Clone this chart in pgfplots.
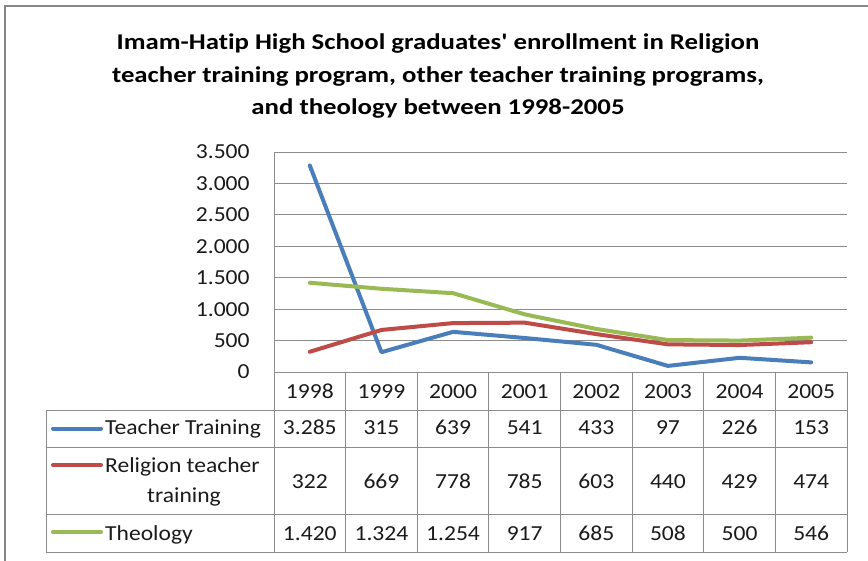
\documentclass[border=0pt]{standalone}
\usepackage{fontspec}
\setmainfont[Ligatures={TeX,NoCommon}]{Carlito}
\usepackage{pgfplots}
\pgfplotsset{compat=1.18}
\definecolor{tblue}{HTML}{4A7EBB}
\definecolor{tred}{HTML}{BE4B48}
\definecolor{tgreen}{HTML}{98B954}
\definecolor{gridc}{HTML}{8C8C8C}
\definecolor{frame}{HTML}{868686}
\definecolor{txt}{HTML}{1A1A1A}
\newcommand{\tf}{\fontsize{21.5}{26}\selectfont}
\newcommand{\sq}{\XeTeXglyph\XeTeXcharglyph"27\relax}
\begin{document}
\begin{tikzpicture}[x=1bp,y=1bp]
\useasboundingbox (0,0) rectangle (868,-561);
% outer frame (left and top visible)
\draw[frame, line width=2bp] (5,-561) -- (5,-6) -- (868,-6);
% title
\begin{scope}[every node/.style={inner sep=0, xscale=1.19, font=\fontsize{22.6}{27}\selectfont\bfseries, text=black}]
\node[anchor=base] at (438,-49.3) {Imam-Hatip High School graduates\sq{} enrollment in Religion};
\node[anchor=base] at (438,-82.7) {teacher training program, other teacher training programs,};
\node[anchor=base] at (438,-114.3) {and theology between 1998-2005};
\end{scope}
\begin{axis}[at={(274bp,-372bp)}, anchor=south west, scale only axis,
  width=573bp, height=220bp,
  xmin=0.5, xmax=8.5, ymin=0, ymax=3500,
  xtick=\empty, ytick={0,500,...,3500},
  ymajorgrids, grid style={gridc, line width=1bp},
  axis lines*=left, axis line style={gridc, line width=1bp, -},
  major tick length=0pt,
  yticklabel style={font=\tf, text=txt, inner xsep=0pt, xscale=1.1, xshift=-22bp},
  clip=false,
  /pgf/number format/.cd, 1000 sep={.}, assume math mode=true]
\addplot[tblue, line width=4bp, line join=round, line cap=round] coordinates {(1,3285)(2,315)(3,639)(4,541)(5,433)(6,97)(7,226)(8,153)};
\addplot[tred, line width=4bp, line join=round, line cap=round] coordinates {(1,322)(2,669)(3,778)(4,785)(5,603)(6,440)(7,429)(8,474)};
\addplot[tgreen, line width=4bp, line join=round, line cap=round] coordinates {(1,1420)(2,1324)(3,1254)(4,917)(5,685)(6,508)(7,500)(8,546)};
\end{axis}
% data table grid
\begin{scope}[gridc, line width=1bp]
\draw (46,-410) -- (847,-410);
\draw (46,-447) -- (847,-447);
\draw (46,-514) -- (847,-514);
\draw (46,-552) -- (847,-552);
\draw (46,-410) -- (46,-552);
\foreach \i in {0,...,8} { \draw ({274+71.625*\i},-372) -- ({274+71.625*\i},-552); }
\end{scope}
\begin{scope}[every node/.style={inner sep=0, xscale=1.1, font=\tf, text=txt}]
\foreach \y [count=\i] in {1998,1999,2000,2001,2002,2003,2004,2005}
  \node[anchor=base] at ({274+71.625*(\i-0.5)},-398.3) {\y};
\foreach \v [count=\i] in {3.285,315,639,541,433,97,226,153}
  \node[anchor=base] at ({274+71.625*(\i-0.5)},-434.3) {\v};
\foreach \v [count=\i] in {322,669,778,785,603,440,429,474}
  \node[anchor=base] at ({274+71.625*(\i-0.5)},-488.3) {\v};
\foreach \v [count=\i] in {1.420,1.324,1.254,917,685,508,500,546}
  \node[anchor=base] at ({274+71.625*(\i-0.5)},-540) {\v};
% legend keys and names
\draw[tblue, line width=4bp, line cap=round] (53,-428.5) -- (101,-428.5);
\node[anchor=base west] at (105,-434.3) {Teacher Training};
\draw[tred, line width=4bp, line cap=round] (53,-465) -- (101,-465);
\node[anchor=base west] at (105,-472.3) {Religion teacher};
\node[anchor=base] at (184,-502) {training};
\draw[tgreen, line width=4bp, line cap=round] (53,-532.3) -- (101,-532.3);
\node[anchor=base west] at (105,-540) {Theology};
\end{scope}
\end{tikzpicture}
\end{document}
